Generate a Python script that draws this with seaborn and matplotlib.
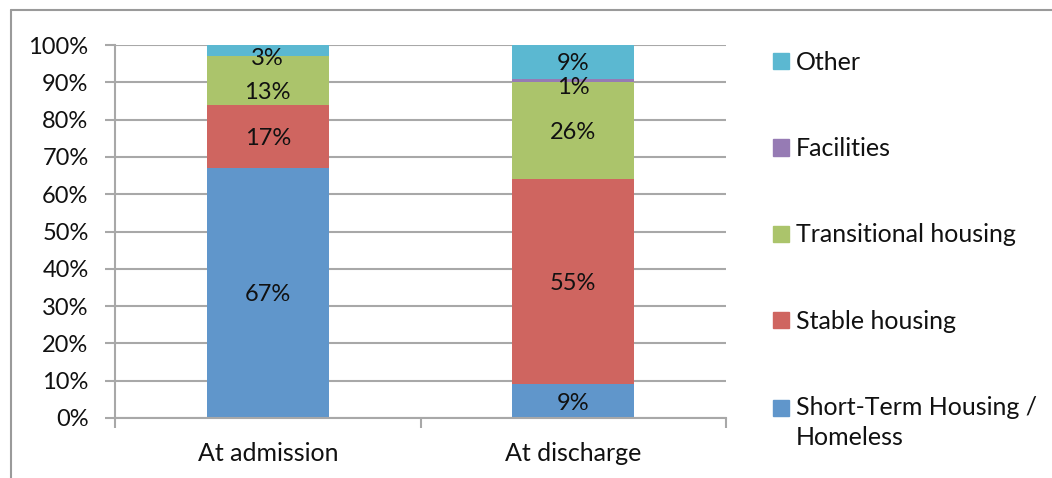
import matplotlib
matplotlib.use("Agg")
import matplotlib.pyplot as plt
import matplotlib.patches as mpatches
from matplotlib.lines import Line2D
import seaborn as sns
import numpy as np
import pandas as pd

categories = ["At admission", "At discharge"]
series = ["Short-Term Housing /\nHomeless", "Stable housing", "Transitional housing", "Facilities", "Other"]
short_term = [67, 9]
stable = [17, 55]
transitional = [13, 26]
facilities = [0, 1]
other = [3, 9]
colors = ["#6096CB", "#CF6560", "#ABC46B", "#967BB4", "#5BB8D1"]
yticks = [0, 10, 20, 30, 40, 50, 60, 70, 80, 90, 100]

# label nudges (style, in % units) mimicking Excel's overlap avoidance
label_nudge = {(4, 0): -1.7, (2, 0): -2.8, (3, 1): -1.3}

sns.set_theme(style="white")
plt.rcParams["font.family"] = ["Lato", "DejaVu Sans"]
FS_TXT = 18
FS_NUM = 17
TXT = "#111111"

values = np.array([short_term, stable, transitional, facilities, other], dtype=float)
cum = np.cumsum(values, axis=0)

fig = plt.figure(figsize=(10.52, 4.78), dpi=100)
ax = fig.add_axes([115 / 1052, 60 / 478, 611 / 1052, 373 / 478])

for i in reversed(range(len(series))):
    df = pd.DataFrame({"cat": categories, "val": cum[i]})
    sns.barplot(data=df, x="cat", y="val", color=colors[i], width=0.4,
                saturation=1, ax=ax, zorder=2, linewidth=0)

for i in range(len(series)):
    for j in range(len(categories)):
        v = values[i, j]
        if v <= 0:
            continue
        yc = cum[i, j] - v / 2 - 0.5 + label_nudge.get((i, j), 0)
        ax.text(j, yc, f"{int(v)}%", ha="center", va="center", fontsize=FS_NUM,
                color=TXT, zorder=5)

ax.set_ylim(0, 100)
ax.set_xlim(-0.5, 1.5)
ax.set_yticks(yticks)
ax.set_yticklabels([f"{t}%" for t in yticks], fontsize=FS_NUM, color=TXT)
ax.set_xticks([0, 1])
ax.set_xticklabels(categories, fontsize=FS_TXT, color=TXT)
ax.set_xticks([-0.5, 0.5, 1.5], minor=True)
ax.set_xlabel("")
ax.set_ylabel("")
ax.yaxis.grid(True, color="#A8A8A8", linewidth=1.5, zorder=0)
ax.set_axisbelow(True)
for s in ["top", "right"]:
    ax.spines[s].set_visible(False)
for s in ["left", "bottom"]:
    ax.spines[s].set_color("#A8A8A8")
    ax.spines[s].set_linewidth(1.5)
ax.tick_params(axis="y", which="major", length=7, width=1.5, color="#A8A8A8",
               direction="out", pad=12, left=True)
ax.tick_params(axis="x", which="major", length=0, pad=17)
ax.tick_params(axis="x", which="minor", length=7, width=1.5, color="#A8A8A8",
               direction="out", bottom=True)

handles = [mpatches.Patch(color=colors[i], label=series[i]) for i in reversed(range(len(series)))]
leg = fig.legend(handles=handles, loc="upper left",
                 bbox_to_anchor=(773 / 1052, 1 - 51 / 478),
                 frameon=False, fontsize=FS_TXT, handlelength=0.62, handleheight=0.62,
                 handletextpad=0.28, labelspacing=2.53, borderpad=0, borderaxespad=0)
for t in leg.get_texts():
    t.set_color(TXT)
leg.get_texts()[-1].set_linespacing(1.38)
# align the two-line entry's marker with its first line
last = leg.legend_handles[-1]
last.set_y(last.get_y() + 11.3)

fig.add_artist(Line2D([11 / 1052, 1], [1 - 10 / 478, 1 - 10 / 478], color="#9A9A9A", linewidth=1.5))
fig.add_artist(Line2D([11 / 1052, 11 / 1052], [0, 1 - 10 / 478], color="#9A9A9A", linewidth=1.5))

fig.savefig("out.png", dpi=100)
